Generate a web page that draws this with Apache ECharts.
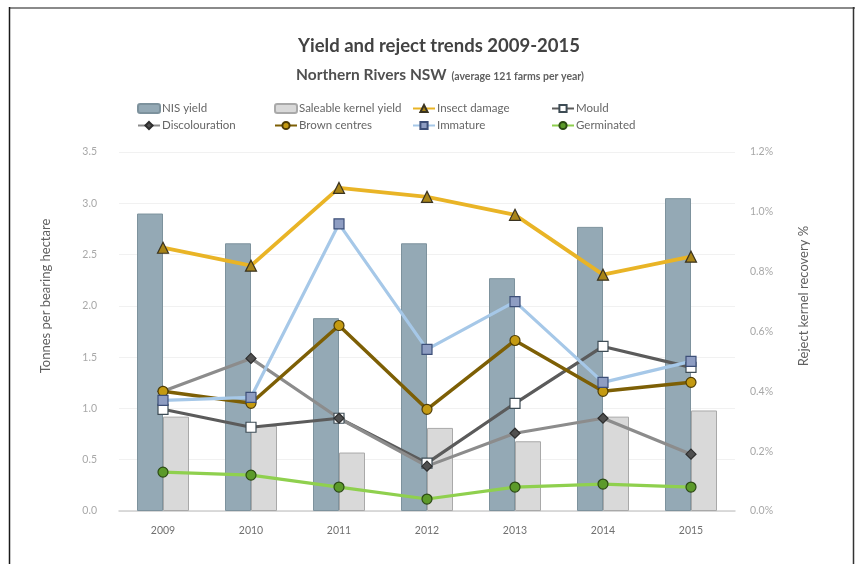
<!DOCTYPE html>
<html>
<head>
<meta charset="utf-8">
<script src="https://cdn.jsdelivr.net/npm/echarts@6/dist/echarts.min.js"></script>
<style>
  html, body { margin: 0; padding: 0; background: #ffffff; }
  #chart { width: 855px; height: 564px; }
</style>
</head>
<body>
<div id="chart"></div>
<script>
// Harvest years
const years = ['2009', '2010', '2011', '2012', '2013', '2014', '2015'];

// Yields, tonnes per bearing hectare (left axis)
const nisYield      = [2.90, 2.61, 1.88, 2.61, 2.27, 2.77, 3.05];
const saleableYield = [0.92, 0.83, 0.57, 0.81, 0.68, 0.92, 0.98];

// Reject kernel recovery, % (right axis)
const insectDamage   = [0.88, 0.82, 1.08, 1.05, 0.99, 0.79, 0.85];
const mould          = [0.34, 0.28, 0.31, 0.16, 0.36, 0.55, 0.48];
const discolouration = [0.40, 0.51, 0.31, 0.15, 0.26, 0.31, 0.19];
const brownCentres   = [0.40, 0.36, 0.62, 0.34, 0.57, 0.40, 0.43];
const immature       = [0.37, 0.38, 0.96, 0.54, 0.70, 0.43, 0.50];
const germinated     = [0.13, 0.12, 0.08, 0.04, 0.08, 0.09, 0.08];

// Axis scales: [min, max, step]
const yieldScale  = [0, 3.5, 0.5];
const rejectScale = [0, 1.2, 0.2];

const FONT = 'Lato, "Open Sans", sans-serif';

const chart = echarts.init(document.getElementById('chart'), null, { renderer: 'canvas' });

function lineSeries(name, data, lineColor, symbol, size, fill, border, width) {
  return {
    name: name,
    type: 'line',
    yAxisIndex: 1,
    data: data,
    symbol: symbol,
    symbolSize: size,
    lineStyle: { color: lineColor, width: width || 3.2 },
    itemStyle: { color: fill, borderColor: border, borderWidth: 1.2 },
    emphasis: { disabled: true },
    z: 3
  };
}

const legendBase = {
  orient: 'vertical',
  top: 97,
  itemWidth: 22,
  itemHeight: 9,
  itemGap: 4,
  textStyle: { fontFamily: FONT, fontSize: 11.5, color: '#666666', lineHeight: 13, padding: [0, 0, 0, -3] },
  selectedMode: false
};

const option = {
  backgroundColor: '#ffffff',
  animation: false,
  title: [
    {
      text: 'Yield and reject trends 2009-2015',
      left: 434, top: 32, textAlign: 'center',
      textStyle: { fontFamily: FONT, fontSize: 18.5, fontWeight: 'bold', color: '#424242' }
    },
    {
      text: '{a|Northern Rivers NSW} {b|(average 121 farms per year)}',
      left: 435, top: 61, textAlign: 'center',
      textStyle: {
        rich: {
          a: { fontFamily: FONT, fontSize: 15.5, fontWeight: 'bold', color: '#505050' },
          b: { fontFamily: FONT, fontSize: 10.5, fontWeight: 'bold', color: '#606060', padding: [3, 0, 0, 0] }
        }
      }
    }
  ],
  legend: [
    Object.assign({}, legendBase, { left: 132, data: ['NIS yield', 'Discolouration'] }),
    Object.assign({}, legendBase, { left: 269, data: ['Saleable kernel yield', 'Brown centres'] }),
    Object.assign({}, legendBase, { left: 407, data: ['Insect damage', 'Immature'] }),
    Object.assign({}, legendBase, { left: 546, data: ['Mould', 'Germinated'] })
  ],
  grid: { left: 119, right: 120, top: 152, bottom: 53, containLabel: false },
  xAxis: {
    type: 'category',
    data: years,
    axisLine: { show: true, lineStyle: { color: '#d0d0d0', width: 1.5 } },
    axisTick: { show: false },
    axisLabel: { fontFamily: FONT, fontSize: 10.5, color: '#707070', margin: 14 }
  },
  yAxis: [
    {
      type: 'value',
      min: yieldScale[0], max: yieldScale[1], interval: yieldScale[2],
      axisLine: { show: false },
      axisTick: { show: false },
      splitLine: { lineStyle: { color: '#f1f1f1', width: 1 } },
      axisLabel: {
        fontFamily: FONT, fontSize: 10.5, color: '#a8a8a8', margin: 22,
        formatter: v => v.toFixed(1)
      }
    },
    {
      type: 'value',
      min: rejectScale[0], max: rejectScale[1], interval: rejectScale[2],
      axisLine: { show: false },
      axisTick: { show: false },
      splitLine: { show: false },
      axisLabel: {
        fontFamily: FONT, fontSize: 10.5, color: '#a8a8a8', margin: 15,
        formatter: v => v.toFixed(1) + '%'
      }
    }
  ],
  graphic: [
    { type: 'line', shape: { x1: 9, y1: 8, x2: 855, y2: 8 }, style: { stroke: '#8a8a8a', lineWidth: 2 }, silent: true },
    { type: 'line', shape: { x1: 9.5, y1: 7, x2: 9.5, y2: 564 }, style: { stroke: '#1a1a1a', lineWidth: 1.5 }, silent: true },
    { type: 'line', shape: { x1: 853.5, y1: 7, x2: 853.5, y2: 564 }, style: { stroke: '#333333', lineWidth: 1.5 }, silent: true },
    {
      type: 'text', x: 46, y: 296, rotation: Math.PI / 2, silent: true,
      style: { text: 'Tonnes per bearing hectare', fontFamily: FONT, fontSize: 13, fill: '#606060', align: 'center', verticalAlign: 'middle' }
    },
    {
      type: 'text', x: 804, y: 296, rotation: Math.PI / 2, silent: true,
      style: { text: 'Reject kernel recovery %', fontFamily: FONT, fontSize: 13, fill: '#606060', align: 'center', verticalAlign: 'middle' }
    }
  ],
  series: [
    {
      name: 'NIS yield', type: 'bar', yAxisIndex: 0, data: nisYield,
      barWidth: 26, barGap: '0%',
      itemStyle: { color: '#94a9b5', borderColor: '#7d929d', borderWidth: 1 },
      emphasis: { disabled: true }, z: 2
    },
    {
      name: 'Saleable kernel yield', type: 'bar', yAxisIndex: 0, data: saleableYield,
      barWidth: 26, barGap: '0%',
      itemStyle: { color: '#d9d9d9', borderColor: '#a9a9a9', borderWidth: 1 },
      emphasis: { disabled: true }, z: 2
    },
    lineSeries('Insect damage', insectDamage, '#e9b426', 'triangle', 11, '#a88418', '#3a3320', 3.8),
    lineSeries('Mould', mould, '#5b5b5b', 'rect', 10, '#ffffff', '#3e4c55'),
    lineSeries('Discolouration', discolouration, '#8c8c8c', 'diamond', 10, '#505050', '#2e2e2e'),
    lineSeries('Brown centres', brownCentres, '#7d5f05', 'circle', 10, '#c49a12', '#4f3d06', 3.5),
    lineSeries('Immature', immature, '#a6c8e8', 'rect', 10, '#8e9dc2', '#3d4f78'),
    lineSeries('Germinated', germinated, '#8fd04e', 'circle', 10, '#5c9a2a', '#2c4a14')
  ]
};

chart.setOption(option);
</script>
</body>
</html>
